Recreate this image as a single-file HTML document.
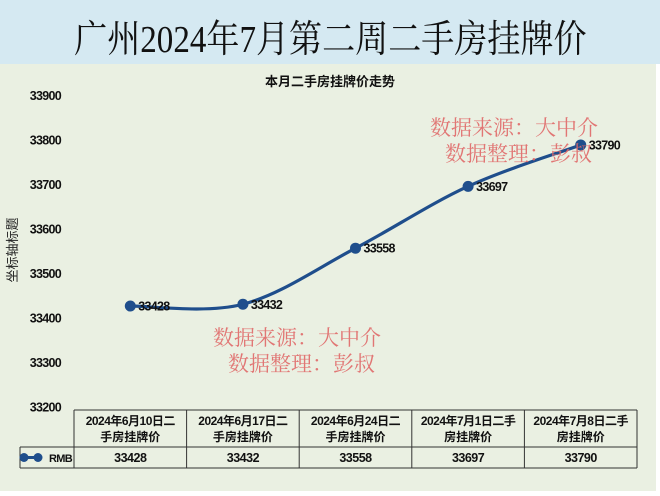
<!DOCTYPE html>
<html><head><meta charset="utf-8">
<style>
body{margin:0;width:660px;height:496px;overflow:hidden;background:#fff;font-family:"Liberation Sans","Noto Sans CJK SC",sans-serif;}
#hdr{position:absolute;left:0;top:0;width:660px;height:64px;background:#d5e9f2;}
#hdr div{position:absolute;left:0;right:0;top:8px;text-align:center;font-family:"Liberation Serif","Noto Serif CJK SC",serif;font-size:38px;color:#111;transform:scaleX(0.87);transform-origin:333px 0;}
#bg{position:absolute;left:0;top:64px;width:656px;height:427px;background:#eaf0e2;}
svg{position:absolute;left:0;top:0;}
</style></head><body>
<div id="hdr"><div>广州2024年7月第二周二手房挂牌价</div></div>
<div id="bg"></div>
<svg id="c" width="660" height="496"></svg>
<script>
const categories=["2024年6月10日二|手房挂牌价","2024年6月17日二|手房挂牌价","2024年6月24日二|手房挂牌价","2024年7月1日二手|房挂牌价","2024年7月8日二手|房挂牌价"];
const values=[33428,33432,33558,33697,33790];
const yTicks=[33200,33300,33400,33500,33600,33700,33800,33900];
const seriesName="RMB";

const NS="http://www.w3.org/2000/svg",svg=document.getElementById('c');
function el(t,a,txt){const e=document.createElementNS(NS,t);for(const k in a)e.setAttribute(k,a[k]);if(txt!=null)e.textContent=txt;svg.appendChild(e);return e;}
const y0=33200,y1=33900,py0=407.5,py1=96;
function y(v){return py0-(v-y0)/(y1-y0)*(py0-py1);}
const colL=74,colW=112.6;
function x(i){return colL+colW*(i+0.5);}

let t=el('text',{x:330,y:86,'text-anchor':'middle','font-size':13,'font-weight':'bold',fill:'#111'},'本月二手房挂牌价走势');

t=el('text',{x:0,y:0,transform:'translate(17,250) rotate(-90)','text-anchor':'middle','font-size':13,fill:'#222'},'坐标轴标题');

yTicks.forEach(v=>{const e=el('text',{x:61,y:y(v)+4,'text-anchor':'end','font-size':12.5,'font-weight':'bold',fill:'#111','letter-spacing':'-0.7'},v);
});

const pts=values.map((v,i)=>[x(i),y(v)]);
let d='M'+pts[0][0]+','+pts[0][1];
for(let i=0;i<pts.length-1;i++){const p0=pts[i-1]||pts[i],p1=pts[i],p2=pts[i+1],p3=pts[i+2]||p2;
const c1=[p1[0]+(p2[0]-p0[0])/6,p1[1]+(p2[1]-p0[1])/6],c2=[p2[0]-(p3[0]-p1[0])/6,p2[1]-(p3[1]-p1[1])/6];
d+=' C'+c1+' '+c2+' '+p2;}
const ln=el('path',{d:d,fill:'none',stroke:'#1f4e8c','stroke-width':3.2});

pts.forEach((p,i)=>{const m=el('circle',{cx:p[0],cy:p[1],r:5.5,fill:'#1f4e8c'});

const l=el('text',{x:p[0]+8,y:p[1]+4.5,'font-size':12.5,'font-weight':'bold',fill:'#111','letter-spacing':'-0.7'},values[i]);
});

function wm(x0,yy,s){const e=el('text',{x:x0,y:yy,'font-size':21,fill:'#e06868','fill-opacity':0.9,'font-family':'Liberation Serif,Noto Serif CJK SC,serif'},s);
}
wm(430,135,'数据来源：大中介');wm(445,161,'数据整理：彭叔');
wm(213,345,'数据来源：大中介');wm(228,371,'数据整理：彭叔');

const tTop=410,hRow=37,dRow=21,tRight=colL+colW*5;
function line(a,b,c,d2){const e=el('line',{x1:a,y1:b,x2:c,y2:d2,stroke:'#333','stroke-width':1});}
line(colL,tTop,tRight,tTop);line(20,tTop+hRow,tRight,tTop+hRow);line(20,tTop+hRow+dRow,tRight,tTop+hRow+dRow);
line(20,tTop+hRow,20,tTop+hRow+dRow);
for(let i=0;i<=5;i++)line(colL+colW*i,tTop,colL+colW*i,tTop+hRow+dRow);
categories.forEach((c,i)=>{const [a,b]=c.split('|');
const e1=el('text',{x:x(i),y:tTop+15,'text-anchor':'middle','font-size':12,'font-weight':'bold',fill:'#111','letter-spacing':'-0.5'},a);

const e2=el('text',{x:x(i),y:tTop+31,'text-anchor':'middle','font-size':12,'font-weight':'bold',fill:'#111'},b);

const e3=el('text',{x:x(i),y:tTop+hRow+15,'text-anchor':'middle','font-size':12.5,'font-weight':'bold',fill:'#111','letter-spacing':'-0.5'},values[i]);
});
const lk=el('line',{x1:24,y1:tTop+hRow+10.5,x2:38,y2:tTop+hRow+10.5,stroke:'#1f4e8c','stroke-width':3});

[24,38].forEach(cx=>{const c=el('circle',{cx:cx,cy:tTop+hRow+10.5,r:4.5,fill:'#1f4e8c'});});
const lt=el('text',{x:72,y:tTop+hRow+15,'text-anchor':'end','font-size':11,'font-weight':'bold',fill:'#111','letter-spacing':'-0.7'},seriesName);

</script>
</body></html>
